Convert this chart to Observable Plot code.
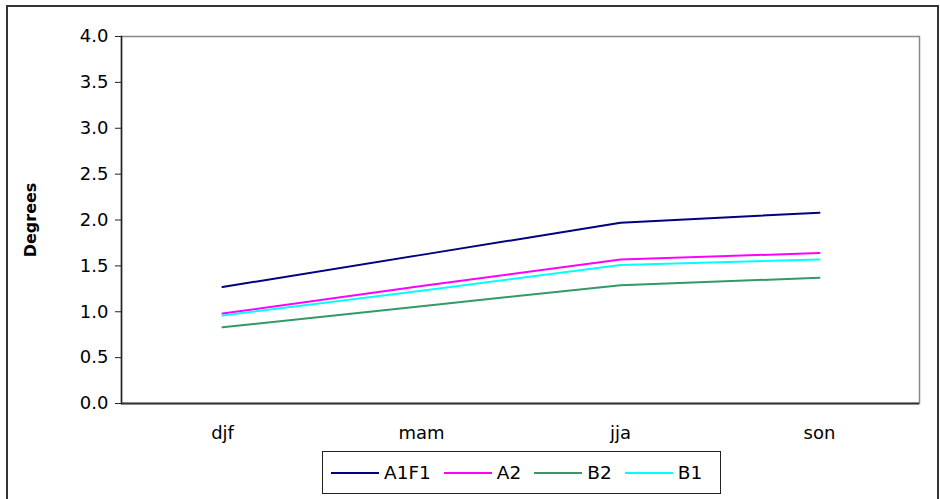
<!DOCTYPE html>
<html>
<head>
<meta charset="utf-8">
<script src="https://cdn.jsdelivr.net/npm/d3@7"></script>
<script src="https://cdn.jsdelivr.net/npm/@observablehq/plot@0.6"></script>
<style>
  html, body { margin: 0; padding: 0; background: #fff; }
  #wrap { position: relative; width: 940px; height: 499px; overflow: hidden; font-family: "DejaVu Sans", "Liberation Sans", Arial, sans-serif; }
  #outer { position: absolute; left: 6px; top: 5px; width: 933px; height: 520px; border: 2px solid #333; box-sizing: border-box; pointer-events: none; }
  #legend { position: absolute; left: 322px; top: 451px; width: 399px; height: 43px; border: 1.5px solid #222; box-sizing: border-box; background: #fff; display: flex; align-items: center; padding-left: 8px; font-size: 18.5px; color: #000; }
  .item { display: flex; align-items: center; margin-right: 13px; }
  .sw { display: inline-block; width: 48px; height: 2px; margin-right: 5px; }
</style>
</head>
<body>
<div id="wrap">
  <div id="chart"></div>
  <div id="outer"></div>
  <div id="legend"></div>
</div>
<script>
const seasons = ["djf", "mam", "jja", "son"];
const seriesNames = ["A1F1", "A2", "B2", "B1"];
const seriesColors = ["#000080", "#ff00ff", "#339966", "#00ffff"];
const A1F1 = [1.27, 1.62, 1.97, 2.08];
const A2 = [0.98, 1.28, 1.57, 1.64];
const B2 = [0.83, 1.06, 1.29, 1.37];
const B1 = [0.96, 1.23, 1.51, 1.57];
const yTicks = [0, 0.5, 1, 1.5, 2, 2.5, 3, 3.5, 4];

const valuesBySeries = {A1F1, A2, B2, B1};
const data = [];
for (const s of seriesNames) {
  seasons.forEach((season, i) => data.push({series: s, season, value: valuesBySeries[s][i]}));
}

const font = "'DejaVu Sans', 'Liberation Sans', Arial, sans-serif";
const chart = Plot.plot({
  width: 940,
  height: 499,
  marginLeft: 121,
  marginRight: 21,
  marginTop: 36,
  marginBottom: 96,
  style: {fontFamily: font, fontSize: "18px", color: "#000", background: "#fff"},
  x: {type: "point", domain: seasons, padding: 0.5},
  y: {domain: [0, 4]},
  color: {domain: seriesNames, range: seriesColors},
  marks: [
    Plot.frame({stroke: "#888", strokeWidth: 1.5}),
    Plot.line(data, {x: "season", y: "value", z: "series", stroke: "series", strokeWidth: 2}),
    Plot.axisY({ticks: yTicks, tickFormat: d3.format(".1f"), tickSize: 6, tickPadding: 7, label: null, stroke: "#222", fontSize: 18, fill: "#000"}),
    Plot.axisX({tickSize: 0, tickPadding: 23, label: null, fontSize: 18, fill: "#000"}),
    Plot.frame({anchor: "left", stroke: "#222", strokeWidth: 1.5}),
    Plot.ruleY([0], {stroke: "#333", strokeWidth: 2}),
    Plot.text(["Degrees"], {frameAnchor: "left", dx: -91, rotate: -90, textAnchor: "middle", fontWeight: "bold", fontSize: 16, fill: "#000"})
  ]
});
document.getElementById("chart").appendChild(chart);

const legend = document.getElementById("legend");
seriesNames.forEach((s, i) => {
  const item = document.createElement("div");
  item.className = "item";
  const sw = document.createElement("span");
  sw.className = "sw";
  sw.style.background = seriesColors[i];
  const lab = document.createElement("span");
  lab.textContent = s;
  item.appendChild(sw);
  item.appendChild(lab);
  legend.appendChild(item);
});
</script>
</body>
</html>
